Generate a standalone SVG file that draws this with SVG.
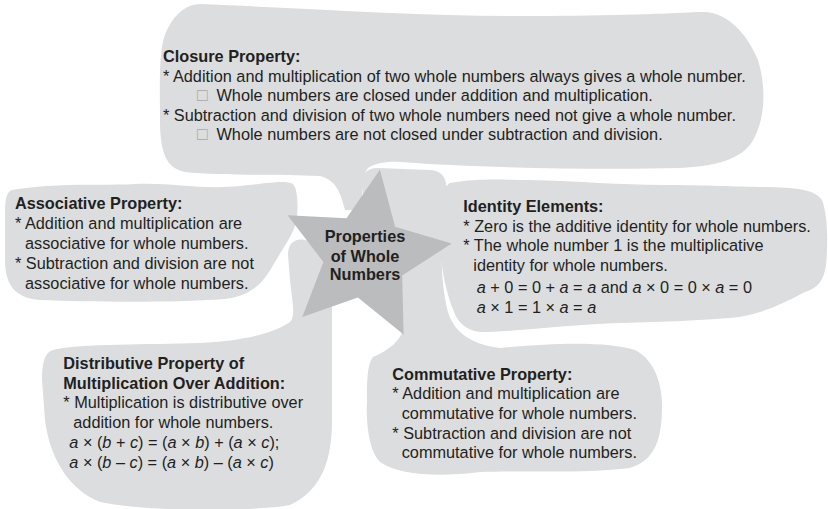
<svg xmlns="http://www.w3.org/2000/svg" width="828" height="509" viewBox="0 0 828 509">
<defs>
<style>
.bub{fill:#dcdddf;stroke:none}
.star{fill:#bbbcbe;stroke:none}
text{font-family:"Liberation Sans",Arial,Helvetica,sans-serif;font-size:16.3px;fill:#231f20}
.h{font-weight:bold}
.i{font-style:italic}
.box{fill:#a8a8a8;font-size:17.5px}
.c{text-anchor:middle;font-weight:bold}
</style>
</defs>
<rect width="828" height="509" fill="#ffffff"/>
<g id="connectors">
</g>
<g id="closure">
<path class="bub" d="M200,4 C300,8 420,16 520,16 C600,16 660,14 700,12 C730,10 750,40 758,60 C766,85 766,120 752,142 C740,160 715,166 680,168 C600,170 480,168 400,162 C388,161 375,163 368,168 C362,175 362,190 362,210 L345,210 C340,190 335,180 320,176 C280,174 220,176 185,172 C165,168 160,150 160,120 C160,80 158,45 168,28 C176,12 188,4 200,4 Z"/>
<text class="h" x="163" y="62">Closure Property:</text>
<text x="163" y="81.5">* Addition and multiplication of two whole numbers always gives a whole number.</text>
<text x="197" y="101"><tspan class="box">□</tspan><tspan x="216.5">Whole numbers are closed under addition and multiplication.</tspan></text>
<text x="163" y="120.5">* Subtraction and division of two whole numbers need not give a whole number.</text>
<text x="197" y="140"><tspan class="box">□</tspan><tspan x="216.5">Whole numbers are not closed under subtraction and division.</tspan></text>
</g>
<g id="associative">
<path class="bub" d="M12,190 C60,182 100,186 135,184 C170,182 200,190 240,186 C270,183 285,180 293,184 C298,190 298,205 297,218 C295,232 285,245 275,262 C265,280 255,295 225,299 C170,303 90,302 40,300 C15,298 5,285 5,260 L5,215 C5,200 6,192 12,190 Z"/>
<text class="h" x="15" y="208.5">Associative Property:</text>
<text x="15" y="228.5">* Addition and multiplication are</text>
<text x="25" y="248.5">associative for whole numbers.</text>
<text x="15" y="268.5">* Subtraction and division are not</text>
<text x="25" y="288.5">associative for whole numbers.</text>
</g>
<g id="identity">
<path class="bub" d="M450,183 C480,178 500,180 530,180 C580,181 620,185 663,185 C710,185 740,187 770,187 C800,188 815,190 822,200 C828,215 828,245 826,265 C824,280 818,288 805,292 C780,305 760,315 730,318 C680,322 640,322 597,324 C560,326 510,332 480,332 C465,330 458,322 454,312 C446,292 443,275 441,258 C438,240 437,228 440,210 C442,195 444,186 450,183 Z"/>
<text class="h" x="463.3" y="211.7">Identity Elements:</text>
<text x="463.3" y="231.7">* Zero is the additive identity for whole numbers.</text>
<text x="463.3" y="250.7">* The whole number 1 is the multiplicative</text>
<text x="473.3" y="271">identity for whole numbers.</text>
<text x="476.7" y="293.3"><tspan class="i">a</tspan> + 0 = 0 + <tspan class="i">a</tspan> = <tspan class="i">a</tspan> and <tspan class="i">a</tspan> × 0 = 0 × <tspan class="i">a</tspan> = 0</text>
<text x="476.7" y="312.7"><tspan class="i">a</tspan> × 1 = 1 × <tspan class="i">a</tspan> = <tspan class="i">a</tspan></text>
</g>
<g id="distributive">
<path class="bub" d="M53,350 C80,343 150,345 200,343 C240,341 270,335 290,322 C296,316 292,300 290,280 L288,255 C288,243 295,238 305,240 C320,243 330,250 332,270 L332,420 C332,460 322,490 290,505 C250,512 150,512 100,502 C70,490 50,460 45,420 L42,380 C42,362 45,352 53,350 Z"/>
<text class="h" x="63.3" y="369.3">Distributive Property of</text>
<text class="h" x="63.3" y="389.3">Multiplication Over Addition:</text>
<text x="63.3" y="408.3">* Multiplication is distributive over</text>
<text x="73.3" y="428.3">addition for whole numbers.</text>
<text x="69.3" y="448.3"><tspan class="i">a</tspan> × (<tspan class="i">b</tspan> + <tspan class="i">c</tspan>) = (<tspan class="i">a</tspan> × <tspan class="i">b</tspan>) + (<tspan class="i">a</tspan> × <tspan class="i">c</tspan>);</text>
<text x="69.3" y="468.3"><tspan class="i">a</tspan> × (<tspan class="i">b</tspan> – <tspan class="i">c</tspan>) = (<tspan class="i">a</tspan> × <tspan class="i">b</tspan>) – (<tspan class="i">a</tspan> × <tspan class="i">c</tspan>)</text>
</g>
<g id="commutative">
<path class="bub" d="M373,357 C390,350 400,340 403,330 L372,300 L362,185 C362,173 367,168 378,168 L430,170 C444,171 448,180 446,196 C442,230 438,275 448,312 C455,335 475,345 500,348 C560,342 610,342 635,350 C655,360 662,385 662,405 C662,440 655,460 630,468 C580,474 520,470 480,472 C440,477 400,476 380,462 C368,450 366,420 367,400 C367,380 367,365 373,357 Z"/>
<text class="h" x="392.3" y="380">Commutative Property:</text>
<text x="392.3" y="399.3">* Addition and multiplication are</text>
<text x="401.7" y="419.3">commutative for whole numbers.</text>
<text x="392.3" y="439">* Subtraction and division are not</text>
<text x="401.7" y="458.3">commutative for whole numbers.</text>
</g>
<g id="star">
<polygon class="star" points="379.9,169.8 395.1,226.7 451.6,243.5 402.2,275.6 403.6,334.5 357.9,297.4 302.3,317 323.4,262 287.6,215.2 346.5,218.3"/>
<text class="c" x="365" y="241.7">Properties</text>
<text class="c" x="365" y="261.7">of Whole</text>
<text class="c" x="365" y="280">Numbers</text>
</g>
</svg>
